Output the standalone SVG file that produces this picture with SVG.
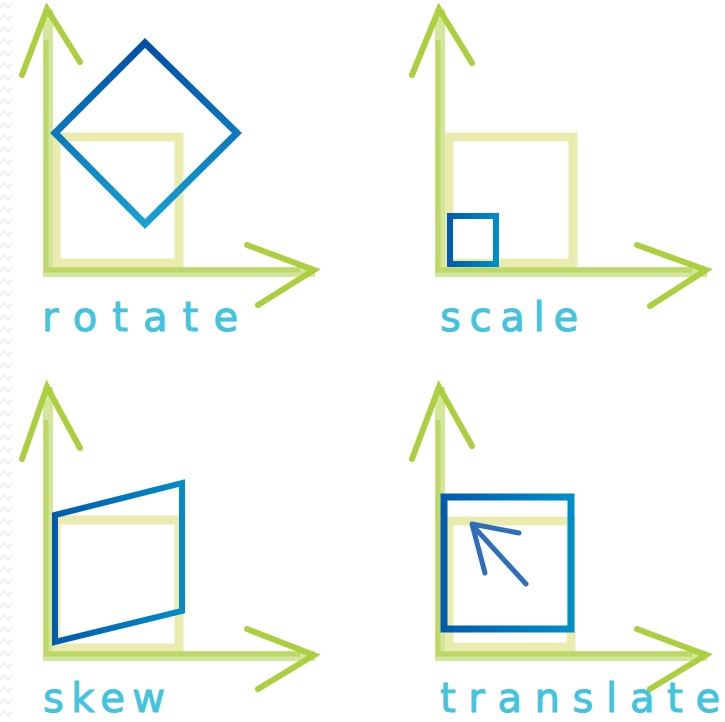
<svg xmlns="http://www.w3.org/2000/svg" width="725" height="722" viewBox="0 0 725 722">
<defs>
<style>
.axis{fill:none;stroke:#D3E69B;stroke-width:10;stroke-linecap:square}
.axin{fill:none;stroke:#BDD864;stroke-width:5}
.head{fill:none;stroke:#ABCF3E;stroke-width:6;stroke-linecap:round}
.ysq{fill:none;stroke:#EAEBAE;stroke-width:9}
.lbl{font-family:"DejaVu Sans",sans-serif;font-size:40px;fill:#42C4DF;stroke:#42C4DF;stroke-width:1}
</style>
<linearGradient id="gDia" x1="0" y1="0" x2="0" y2="1">
<stop offset="0" stop-color="#004FA6"/>
<stop offset="1" stop-color="#18A2D2"/>
</linearGradient>
<linearGradient id="gH" x1="0" y1="0" x2="1" y2="0">
<stop offset="0" stop-color="#005BAE"/>
<stop offset="1" stop-color="#008DC8"/>
</linearGradient>
<pattern id="zz" width="13" height="12" patternUnits="userSpaceOnUse">
<polyline points="0,8 4,3 8,8 12,3" fill="none" stroke="#EFEFEF" stroke-width="2"/>
</pattern>
</defs>
<rect width="725" height="722" fill="#FFFFFF"/>
<rect x="0" y="0" width="12" height="722" fill="url(#zz)"/>

<g id="rotate">
<rect class="ysq" x="56" y="137" width="123" height="126"/>
<path class="axis" d="M48,14 V272 H310"/>
<path class="axin" d="M46,40 V270 H300"/>
<path class="head" d="M22,75 L47,9 L80,62"/>
<path class="head" d="M247,245 L314,270 L258,305"/>
<polygon points="145,43 237,133 145,224 55,133" fill="none" stroke="url(#gDia)" stroke-width="7"/>
<text class="lbl" x="42" y="331" textLength="196" lengthAdjust="spacing">rotate</text>
</g>

<g id="scale">
<rect class="ysq" x="449" y="137" width="124" height="126"/>
<path class="axis" d="M440,14 V272 H702"/>
<path class="axin" d="M438,40 V270 H692"/>
<path class="head" d="M412,75 L439,9 L472,63"/>
<path class="head" d="M637,245 L706,270 L650,306"/>
<rect x="450" y="216" width="46" height="48" fill="none" stroke="url(#gH)" stroke-width="6"/>
<text class="lbl" x="440" y="331" textLength="138" lengthAdjust="spacing">scale</text>
</g>

<g id="skew">
<rect class="ysq" x="56" y="520" width="123" height="128"/>
<path class="axis" d="M48,392 V656 H310"/>
<path class="axin" d="M46,420 V654 H300"/>
<path class="head" d="M22,459 L47,387 L80,448"/>
<path class="head" d="M247,629 L314,655 L258,689"/>
<polygon points="55,515 182,483 182,611 55,642" fill="none" stroke="url(#gH)" stroke-width="6"/>
<text class="lbl" x="43" y="712" textLength="122" lengthAdjust="spacing">skew</text>
</g>

<g id="translate">
<rect class="ysq" x="449" y="521" width="122" height="126"/>
<path class="axis" d="M440,392 V656 H702"/>
<path class="axin" d="M438,420 V654 H692"/>
<path class="head" d="M412,459 L439,387 L472,446"/>
<path class="head" d="M637,629 L706,655 L650,689"/>
<rect x="444" y="497" width="127" height="132" fill="none" stroke="url(#gH)" stroke-width="7"/>
<path d="M519,533 L472,524 L485,573 M474,527 L526,584" fill="none" stroke="#2E6FB8" stroke-width="5" stroke-linecap="round" stroke-linejoin="round"/>
<text class="lbl" x="440" y="712" textLength="280" lengthAdjust="spacing">translate</text>
</g>
</svg>
